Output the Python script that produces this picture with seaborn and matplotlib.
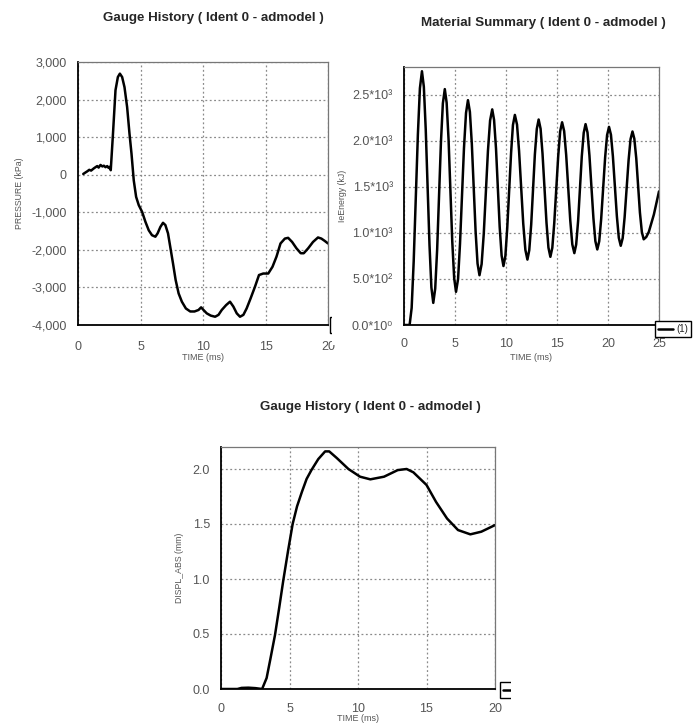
import numpy as np
import pandas as pd
import matplotlib
matplotlib.use("Agg")
import matplotlib.pyplot as plt
from matplotlib.patches import Rectangle
import seaborn as sns

# ---------------- data ----------------
press_t = [0.42, 0.6, 0.74, 0.9, 1.05, 1.27, 1.4, 1.54, 1.65, 1.8, 1.95, 2.07, 2.2, 2.34, 2.45, 2.55, 2.62,
           2.8, 3.0, 3.19, 3.35, 3.53, 3.72, 3.93, 4.12, 4.28, 4.46, 4.65, 4.86, 5.13, 5.39, 5.66,
           5.92, 6.19, 6.37, 6.59, 6.8, 6.99, 7.2, 7.38, 7.6, 7.81, 8.05, 8.31, 8.63, 8.98, 9.32,
           9.64, 9.85, 10.04, 10.3, 10.62, 10.97, 11.24, 11.5, 11.85, 12.16, 12.43, 12.7, 12.96,
           13.23, 13.49, 13.81, 14.16, 14.48, 14.82, 15.22, 15.56, 15.88, 16.2, 16.55, 16.81,
           17.13, 17.48, 17.82, 18.06, 18.41, 18.8, 19.2, 19.47, 19.73, 20.0]
press_v = [20, 60, 90, 130, 110, 170, 200, 230, 190, 260, 220, 240, 200, 230, 180, 210, 120,
           1100, 2250, 2600, 2690, 2600, 2330, 1800, 1090, 560, -150, -590, -810, -990, -1250, -1480,
           -1610, -1650, -1560, -1390, -1280, -1340, -1560, -1920, -2360, -2800, -3160, -3380, -3560, -3640, -3640,
           -3600, -3530, -3600, -3690, -3750, -3780, -3730, -3600, -3470, -3380, -3510, -3690, -3780,
           -3730, -3560, -3290, -2980, -2670, -2630, -2630, -2450, -2180, -1830, -1700, -1680,
           -1790, -1960, -2090, -2090, -1960, -1790, -1670, -1700, -1760, -1830]

energy_t = [0.0, 0.55, 0.75, 0.95, 1.36, 1.56,
            1.76, 1.945, 2.13, 2.50, 2.685,
            2.87, 3.06, 3.25, 3.62, 3.81,
            4.0, 4.18, 4.37, 4.73, 4.92,
            5.1, 5.3, 5.49, 5.88, 6.08,
            6.27, 6.46, 6.65, 7.02, 7.21,
            7.4, 7.61, 7.82, 8.23, 8.44,
            8.65, 8.83, 9.02, 9.38, 9.57,
            9.75, 9.94, 10.12, 10.5, 10.68,
            10.87, 11.08, 11.28, 11.69, 11.9,
            12.1, 12.28, 12.47, 12.83, 13.02,
            13.2, 13.39, 13.58, 13.97, 14.16,
            14.35, 14.54, 14.73, 15.12, 15.31,
            15.5, 15.7, 15.9, 16.3, 16.5,
            16.7, 16.88, 17.07, 17.43, 17.62,
            17.8, 17.99, 18.18, 18.57, 18.76,
            18.95, 19.14, 19.33, 19.72, 19.91,
            20.1, 20.29, 20.48, 20.87, 21.06,
            21.25, 21.44, 21.63, 22.02, 22.21,
            22.4, 22.58, 22.77, 23.13, 23.32,
            23.5, 23.75, 24.0, 24.5, 25.0]
energy_v = [0, 0, 185, 690, 2065, 2570,
            2754, 2586, 2125, 868, 408,
            240, 395, 820, 1980, 2405,
            2560, 2413, 2010, 910, 507,
            360, 499, 880, 1920, 2301,
            2440, 2313, 1965, 1015, 667,
            540, 661, 990, 1890, 2219,
            2340, 2226, 1915, 1065, 754,
            640, 750, 1050, 1870, 2170,
            2280, 2175, 1890, 1100, 815,
            710, 812, 1090, 1850, 2128,
            2230, 2130, 1860, 1110, 840,
            740, 838, 1105, 1835, 2102,
            2200, 2105, 1845, 1135, 875,
            780, 874, 1130, 1830, 2086,
            2180, 2089, 1840, 1160, 911,
            820, 909, 1150, 1820, 2061,
            2150, 2064, 1830, 1180, 946,
            860, 943, 1170, 1790, 2017,
            2100, 2022, 1810, 1220, 1008,
            930, 955, 1010, 1200, 1450]

disp_t = [0.0, 1.2, 1.5, 2.0, 2.5, 3.0, 3.33, 3.6, 3.94, 4.25, 4.55, 4.9, 5.23, 5.55, 5.9, 6.25, 6.6,
          7.1, 7.6, 7.9, 8.45, 9.3, 10.15, 10.9, 11.9, 12.9, 13.55, 14.04, 15.0, 15.7, 16.5,
          17.3, 18.2, 19.0, 20.0]
disp_v = [0.0, 0.0, 0.01, 0.012, 0.008, 0.0, 0.1, 0.27, 0.49, 0.74, 0.99, 1.26, 1.5, 1.66, 1.79, 1.91, 1.99,
          2.09, 2.16, 2.16, 2.10, 2.0, 1.93, 1.906, 1.93, 1.99, 2.0, 1.97, 1.855, 1.70, 1.55,
          1.445, 1.406, 1.43, 1.49]

press_yticks = [-4000, -3000, -2000, -1000, 0, 1000, 2000, 3000]
press_ylabels = ["-4,000", "-3,000", "-2,000", "-1,000", "0", "1,000", "2,000", "3,000"]
energy_yticks = [0, 500, 1000, 1500, 2000, 2500]
energy_ylabels = ["0.0*10\u2070", "5.0*10\u00b2", "1.0*10\u00b3", "1.5*10\u00b3", "2.0*10\u00b3", "2.5*10\u00b3"]
disp_yticks = [0.0, 0.5, 1.0, 1.5, 2.0]
disp_ylabels = ["0.0", "0.5", "1.0", "1.5", "2.0"]
xticks20 = [0, 5, 10, 15, 20]
xticks25 = [0, 5, 10, 15, 20, 25]

title_gauge = "Gauge History ( Ident 0 - admodel )"
title_mat = "Material Summary ( Ident 0 - admodel )"
series_label = "(1)"

# ---------------- style ----------------
sns.set_style("white")
plt.rcParams["font.family"] = ["Liberation Sans", "DejaVu Sans"]

W, H = 693, 725
fig = plt.figure(figsize=(W / 100, H / 100), dpi=100)


def px_axes(l, t, r, b):
    return fig.add_axes([l / W, 1 - b / H, (r - l) / W, (b - t) / H])


ax1 = px_axes(78, 62, 328, 325)
ax2 = px_axes(404, 67, 659, 325)
ax3 = px_axes(221, 447, 495, 689)

df1 = pd.DataFrame({"t": press_t, "v": press_v})
df2 = pd.DataFrame({"t": energy_t, "v": energy_v})
df3 = pd.DataFrame({"t": disp_t, "v": disp_v})

for ax, df in ((ax1, df1), (ax2, df2), (ax3, df3)):
    sns.lineplot(data=df, x="t", y="v", ax=ax, color="black", lw=1.8, label=series_label, legend=False)

ax1.set_xlim(0, 20); ax1.set_ylim(-4000, 3000)
ax2.set_xlim(0, 25); ax2.set_ylim(0, 2800)
ax3.set_xlim(0, 20); ax3.set_ylim(0, 2.2)

ax1.set_yticks(press_yticks, press_ylabels)
ax2.set_yticks(energy_yticks, energy_ylabels)
ax3.set_yticks(disp_yticks, disp_ylabels)
ax1.set_xticks(xticks20, [str(v) for v in xticks20])
ax2.set_xticks(xticks25, [str(v) for v in xticks25])
ax3.set_xticks(xticks20, [str(v) for v in xticks20])

ylabels = ["PRESSURE (kPa)", "IeEnergy (kJ)", "DISPL_ABS (mm)"]
ylab_x = [-0.216, -0.224, -0.135]
xlab_y = [-0.106, -0.109, -0.105]
xpad = [5.5, 3.5, 4.0]
for ax, yl, yx, xy, xp in zip((ax1, ax2, ax3), ylabels, ylab_x, xlab_y, xpad):
    ax.set_xlabel("TIME (ms)", fontsize=6.5, color="#555555")
    ax.set_ylabel(yl, fontsize=6.3, color="#555555")
    ax.yaxis.set_label_coords(yx, 0.5)
    ax.xaxis.set_label_coords(0.5, xy)
    ax.grid(True, linestyle=(0, (1.5, 2.0)), color="#8a8a8a", lw=0.9)
    ax.tick_params(axis="both", direction="out", length=6, width=1, color="black",
                   labelsize=9, labelcolor="#555555")
    ax.tick_params(axis="x", pad=xp)
    ax.tick_params(axis="y", pad=2)
    ax.spines["left"].set_color("black"); ax.spines["left"].set_linewidth(1.3)
    ax.spines["bottom"].set_color("black"); ax.spines["bottom"].set_linewidth(1.3)
    for s in ("top", "right"):
        ax.spines[s].set_color("#777777"); ax.spines[s].set_linewidth(0.9)

# titles
fig.text(213 / W, 1 - 18 / H, title_gauge, ha="center", va="center", fontsize=9.6, fontweight="bold")
fig.text(543 / W, 1 - 23 / H, title_mat, ha="center", va="center", fontsize=9.6, fontweight="bold")
fig.text(370 / W, 1 - 407 / H, title_gauge, ha="center", va="center", fontsize=9.6, fontweight="bold")

# partially visible legends (clipped like the reference)
ax2.set_zorder(3)
leg_kw = dict(loc="lower left", bbox_transform=fig.transFigure, fancybox=False, edgecolor="black",
              framealpha=1, fontsize=7, handlelength=1.5, borderpad=0.3, handletextpad=0.4,
              borderaxespad=0)
ax2.legend(bbox_to_anchor=(655 / W, 1 - 337 / H), **leg_kw)
ax1.legend(handles=ax1.get_lines()[:1], labels=[" "], bbox_to_anchor=(330 / W, 1 - 333 / H), **leg_kw)
ax3.legend(handles=ax3.get_lines()[:1], labels=[" "], bbox_to_anchor=(500 / W, 1 - 698 / H), **leg_kw)

fig.add_artist(Rectangle((331.5 / W, 1 - 345 / H), 45 / W, 40 / H, transform=fig.transFigure,
                         facecolor="white", edgecolor="none", zorder=2))
fig.add_artist(Rectangle((510.5 / W, 1 - 710 / H), 60 / W, 40 / H, transform=fig.transFigure,
                         facecolor="white", edgecolor="none", zorder=2))

fig.savefig("out.png", dpi=100)
